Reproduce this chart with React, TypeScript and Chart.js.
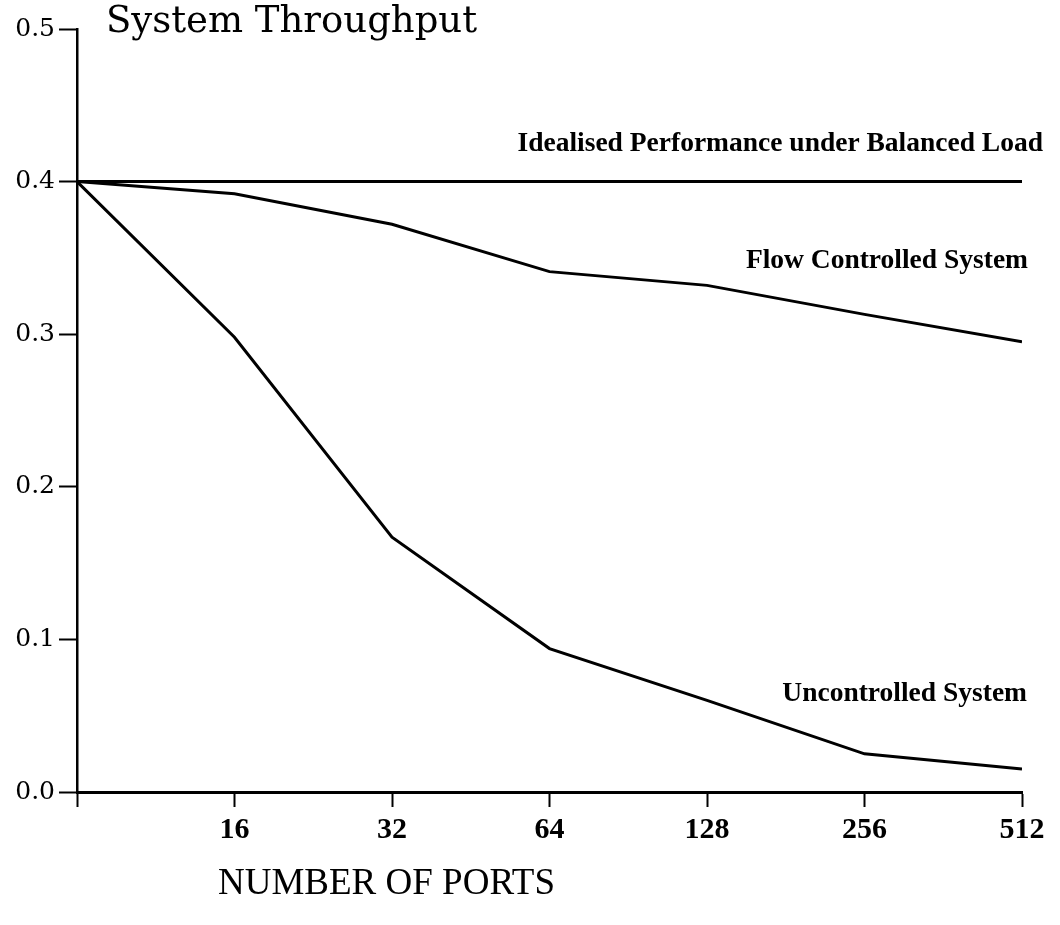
import React, { useEffect, useRef } from "react";
import { Chart, registerables } from "chart.js";

Chart.register(...registerables);

const ports = [8, 16, 32, 64, 128, 256, 512];
const portLabels = ["", "16", "32", "64", "128", "256", "512"];
const idealised = [0.4, 0.4, 0.4, 0.4, 0.4, 0.4, 0.4];
const flowControlled = [0.4, 0.392, 0.372, 0.341, 0.332, 0.313, 0.295];
const uncontrolled = [0.4, 0.298, 0.167, 0.094, 0.06, 0.025, 0.015];
const yTicks = [0, 0.1, 0.2, 0.3, 0.4, 0.5];
const seriesNames = [
  "Idealised Performance under Balanced Load",
  "Flow Controlled System",
  "Uncontrolled System",
];
const chartTitle = "System Throughput";
const xTitle = "NUMBER OF PORTS";

const textPlugin = {
  id: "annotText",
  afterDraw(chart: any) {
    const ctx = chart.ctx;
    ctx.save();
    ctx.fillStyle = "#000";
    ctx.textBaseline = "alphabetic";
    ctx.textAlign = "left";
    ctx.font = '37px "DejaVu Serif"';
    ctx.fillText(chartTitle, 106, 32);
    ctx.font = '37px "Liberation Serif"';
    ctx.fillText(xTitle, 218, 894);
    ctx.font = 'bold 27.5px "Liberation Serif"';
    ctx.textAlign = "right";
    ctx.fillText(seriesNames[0], 1043, 151);
    ctx.fillText(seriesNames[1], 1028, 268);
    ctx.fillText(seriesNames[2], 1027, 701);
    ctx.restore();
  },
};

export default function App() {
  const ref = useRef<HTMLCanvasElement>(null);
  useEffect(() => {
    if (!ref.current) return;
    const mk = (vals: number[]) => ({
      data: ports.map((p, i) => ({ x: p, y: vals[i] })),
      borderColor: "#000",
      borderWidth: 3,
      pointRadius: 0,
      tension: 0,
      fill: false,
    });
    const chart = new Chart(ref.current, {
      type: "line",
      data: {
        datasets: [
          { label: seriesNames[0], ...mk(idealised) },
          { label: seriesNames[1], ...mk(flowControlled) },
          { label: seriesNames[2], ...mk(uncontrolled) },
        ],
      },
      options: {
        responsive: false,
        animation: false,
        layout: { padding: { top: 29, right: 38, bottom: 0, left: 0 } },
        plugins: {
          legend: { display: false },
          tooltip: { enabled: false },
          title: { display: false },
        },
        scales: {
          x: {
            type: "logarithmic",
            min: 8,
            max: 512,
            afterBuildTicks: (scale: any) => {
              scale.ticks = ports.map((v) => ({ value: v }));
            },
            afterFit: (scale: any) => {
              scale.height = 133;
            },
            grid: {
              drawOnChartArea: false,
              drawTicks: true,
              tickLength: 15,
              tickWidth: 2,
              tickColor: "#000",
            },
            border: { display: true, color: "#000", width: 3 },
            ticks: {
              autoSkip: false,
              maxRotation: 0,
              padding: 5,
              color: "#000",
              font: { family: "Liberation Serif", size: 30, weight: "bold" },
              callback: (_v: any, i: number) => portLabels[i],
            },
          },
          y: {
            type: "linear",
            min: 0,
            max: 0.5,
            afterBuildTicks: (scale: any) => {
              scale.ticks = yTicks.map((v) => ({ value: v }));
            },
            afterFit: (scale: any) => {
              scale.width = 77;
            },
            grid: {
              drawOnChartArea: false,
              drawTicks: true,
              tickLength: 18,
              tickWidth: 2,
              tickColor: "#000",
            },
            border: { display: true, color: "#000", width: 2.5 },
            ticks: {
              padding: 4,
              color: "#000",
              font: { family: "DejaVu Serif", size: 25 },
              callback: (v: any) => Number(v).toFixed(1),
            },
          },
        },
      },
      plugins: [textPlugin],
    } as any);
    return () => chart.destroy();
  }, []);
  return (
    <div style={{ position: "absolute", left: 0, top: 0, width: 1060, height: 925, background: "#fff" }}>
      <canvas ref={ref} width={1060} height={925} />
    </div>
  );
}
